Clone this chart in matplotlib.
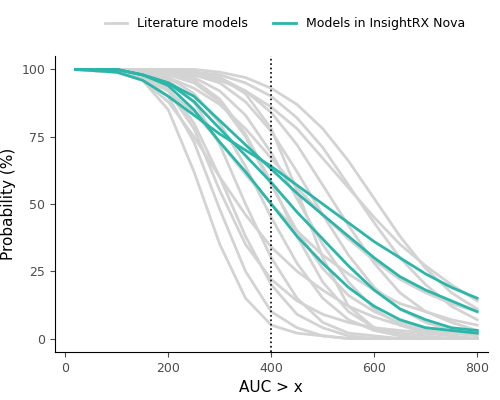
import matplotlib
matplotlib.use('Agg')
import matplotlib.pyplot as plt

auc = [20, 100, 150, 200, 250, 300, 350, 400, 450, 500, 550, 600, 650, 700, 750, 800]

literature = [
    [100, 99, 96, 85, 62, 35, 15, 5, 2, 1, 0, 0, 0, 0, 0, 0],
    [100, 99, 97, 90, 73, 48, 25, 10, 4, 1, 0, 0, 0, 0, 0, 0],
    [100, 100, 98, 93, 80, 60, 38, 20, 9, 4, 1, 0, 0, 0, 0, 0],
    [100, 100, 99, 96, 88, 72, 50, 30, 15, 6, 2, 1, 0, 0, 0, 0],
    [100, 100, 99, 97, 91, 80, 64, 45, 28, 15, 7, 3, 1, 0, 0, 0],
    [100, 99, 97, 92, 84, 73, 61, 50, 40, 31, 24, 18, 13, 10, 7, 5],
    [100, 100, 100, 99, 96, 89, 76, 58, 38, 21, 10, 4, 2, 1, 0, 0],
    [100, 100, 100, 99, 97, 92, 83, 69, 52, 35, 21, 11, 5, 2, 1, 0],
    [100, 100, 100, 100, 98, 95, 88, 77, 62, 46, 31, 19, 11, 6, 3, 2],
    [100, 100, 99, 97, 93, 87, 78, 67, 56, 46, 37, 29, 22, 17, 13, 10],
    [100, 100, 100, 100, 99, 97, 92, 84, 72, 57, 42, 28, 17, 10, 6, 3],
    [100, 100, 100, 100, 99, 98, 95, 90, 82, 71, 57, 43, 30, 20, 12, 7],
    [100, 100, 100, 100, 100, 99, 97, 93, 87, 78, 66, 52, 38, 26, 17, 11],
    [100, 100, 100, 99, 98, 96, 92, 86, 78, 67, 56, 45, 35, 27, 20, 14],
    [100, 99, 96, 88, 75, 60, 46, 34, 25, 18, 12, 8, 5, 3, 2, 1],
    [100, 100, 100, 100, 99, 97, 91, 78, 55, 30, 12, 4, 1, 0, 0, 0],
    [100, 100, 98, 92, 78, 55, 35, 22, 14, 9, 6, 4, 3, 2, 2, 2],
    [100, 100, 99, 98, 95, 88, 75, 57, 40, 26, 16, 10, 6, 4, 3, 2],
]

nova = [
    [100, 99, 96, 90, 83, 76, 70, 64, 57, 50, 43, 36, 30, 24, 19, 15],
    [100, 100, 98, 95, 90, 81, 72, 63, 54, 46, 38, 30, 23, 18, 14, 10],
    [100, 100, 98, 95, 88, 78, 68, 58, 47, 37, 27, 18, 11, 7, 4, 3],
    [100, 100, 98, 94, 85, 73, 62, 50, 38, 28, 19, 12, 7, 4, 3, 2],
]

gray = '#d3d3d3'
teal = '#2ab7a9'

fig, ax = plt.subplots(figsize=(5, 4), dpi=100)
for i, y in enumerate(literature):
    ax.plot(auc, y, color=gray, lw=2, label='Literature models' if i == 0 else None)
for i, y in enumerate(nova):
    ax.plot(auc, y, color=teal, lw=2, label='Models in InsightRX Nova' if i == 0 else None)
ax.axvline(400, color='black', ls=':', lw=1.2)

ax.set_xlim(-20, 820)
ax.set_ylim(-5, 105)
ax.set_xticks([0, 200, 400, 600, 800])
ax.set_yticks([0, 25, 50, 75, 100])
ax.set_xlabel('AUC > x', fontsize=11)
ax.set_ylabel('Probability (%)', fontsize=11)
ax.tick_params(labelsize=9, colors='#4d4d4d')
for s in ['top', 'right']:
    ax.spines[s].set_visible(False)

fig.legend(loc='upper center', ncol=2, frameon=False, fontsize=9,
           bbox_to_anchor=(0.57, 0.985), handlelength=1.8)
fig.subplots_adjust(left=0.11, right=0.975, top=0.86, bottom=0.12)
fig.savefig('out.png')
